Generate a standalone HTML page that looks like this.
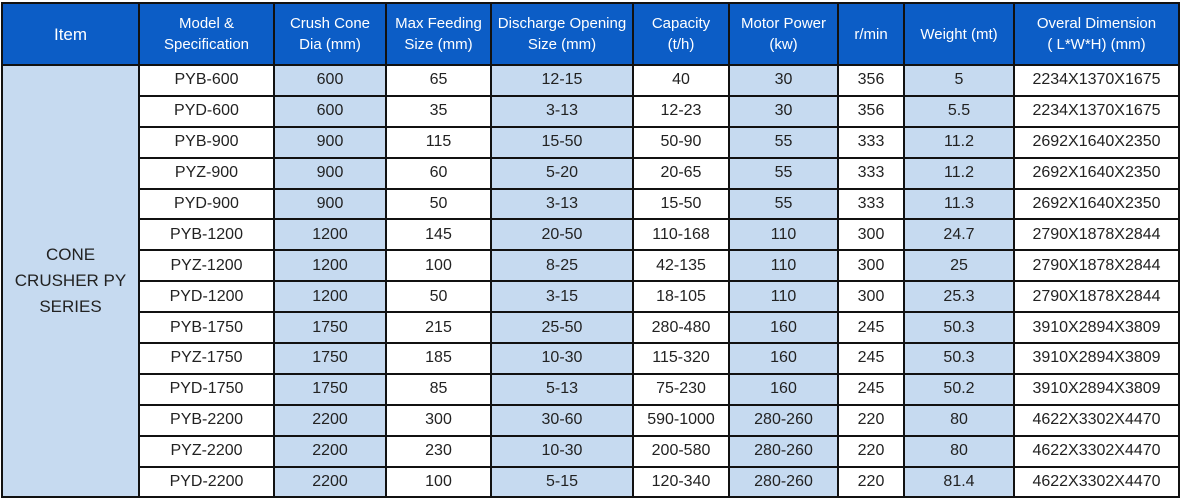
<!DOCTYPE html>
<html><head><style>
body{margin:0;background:#fff;width:1180px;height:500px;overflow:hidden}
table{position:absolute;left:1px;top:2px;border-collapse:collapse;table-layout:fixed;font-family:"Liberation Sans","DejaVu Sans",sans-serif;font-size:16px;color:#222}
td,th{border:2px solid #111;text-align:center;padding:0;overflow:hidden;white-space:nowrap}
th{background:#0c5dc6;color:#fff;font-weight:normal;height:60px;line-height:21px;font-size:15px}
td{height:28.9px}
.s{background:#c6daf0}
.it{background:#c6daf0;font-size:17px;line-height:26px}
</style></head><body>
<table>
<colgroup><col style="width:137px"><col style="width:135px"><col style="width:112px"><col style="width:105px"><col style="width:142px"><col style="width:96px"><col style="width:109px"><col style="width:66px"><col style="width:110px"><col style="width:165px"></colgroup>
<tr><th style="font-size:17px">Item</th><th>Model &amp;<br>Specification</th><th>Crush Cone<br>Dia (mm)</th><th>Max Feeding<br>Size (mm)</th><th>Discharge Opening<br>Size (mm)</th><th>Capacity<br>(t/h)</th><th>Motor Power<br>(kw)</th><th>r/min</th><th>Weight (mt)</th><th>Overal Dimension<br>( L*W*H) (mm)</th></tr>
<tr><td class="it" rowspan="14">CONE<br>CRUSHER PY<br>SERIES</td><td>PYB-600</td><td class="s">600</td><td>65</td><td class="s">12-15</td><td>40</td><td class="s">30</td><td>356</td><td class="s">5</td><td>2234X1370X1675</td></tr>
<tr><td>PYD-600</td><td class="s">600</td><td>35</td><td class="s">3-13</td><td>12-23</td><td class="s">30</td><td>356</td><td class="s">5.5</td><td>2234X1370X1675</td></tr>
<tr><td>PYB-900</td><td class="s">900</td><td>115</td><td class="s">15-50</td><td>50-90</td><td class="s">55</td><td>333</td><td class="s">11.2</td><td>2692X1640X2350</td></tr>
<tr><td>PYZ-900</td><td class="s">900</td><td>60</td><td class="s">5-20</td><td>20-65</td><td class="s">55</td><td>333</td><td class="s">11.2</td><td>2692X1640X2350</td></tr>
<tr><td>PYD-900</td><td class="s">900</td><td>50</td><td class="s">3-13</td><td>15-50</td><td class="s">55</td><td>333</td><td class="s">11.3</td><td>2692X1640X2350</td></tr>
<tr><td>PYB-1200</td><td class="s">1200</td><td>145</td><td class="s">20-50</td><td>110-168</td><td class="s">110</td><td>300</td><td class="s">24.7</td><td>2790X1878X2844</td></tr>
<tr><td>PYZ-1200</td><td class="s">1200</td><td>100</td><td class="s">8-25</td><td>42-135</td><td class="s">110</td><td>300</td><td class="s">25</td><td>2790X1878X2844</td></tr>
<tr><td>PYD-1200</td><td class="s">1200</td><td>50</td><td class="s">3-15</td><td>18-105</td><td class="s">110</td><td>300</td><td class="s">25.3</td><td>2790X1878X2844</td></tr>
<tr><td>PYB-1750</td><td class="s">1750</td><td>215</td><td class="s">25-50</td><td>280-480</td><td class="s">160</td><td>245</td><td class="s">50.3</td><td>3910X2894X3809</td></tr>
<tr><td>PYZ-1750</td><td class="s">1750</td><td>185</td><td class="s">10-30</td><td>115-320</td><td class="s">160</td><td>245</td><td class="s">50.3</td><td>3910X2894X3809</td></tr>
<tr><td>PYD-1750</td><td class="s">1750</td><td>85</td><td class="s">5-13</td><td>75-230</td><td class="s">160</td><td>245</td><td class="s">50.2</td><td>3910X2894X3809</td></tr>
<tr><td>PYB-2200</td><td class="s">2200</td><td>300</td><td class="s">30-60</td><td>590-1000</td><td class="s">280-260</td><td>220</td><td class="s">80</td><td>4622X3302X4470</td></tr>
<tr><td>PYZ-2200</td><td class="s">2200</td><td>230</td><td class="s">10-30</td><td>200-580</td><td class="s">280-260</td><td>220</td><td class="s">80</td><td>4622X3302X4470</td></tr>
<tr><td>PYD-2200</td><td class="s">2200</td><td>100</td><td class="s">5-15</td><td>120-340</td><td class="s">280-260</td><td>220</td><td class="s">81.4</td><td>4622X3302X4470</td></tr>
</table>
</body></html>
